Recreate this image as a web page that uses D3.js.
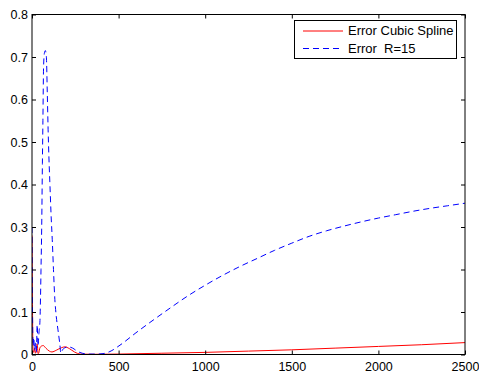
<!DOCTYPE html>
<html><head><meta charset="utf-8">
<script src="https://cdn.jsdelivr.net/npm/d3@7"></script>
<style>body{margin:0;background:#fff}svg{display:block}text{font-family:"Liberation Sans",Arial,sans-serif}</style>
</head><body>
<svg id="c" width="479" height="375"></svg>
<script>
const xTicks = [0,500,1000,1500,2000,2500];
const yTicks = [0,0.1,0.2,0.3,0.4,0.5,0.6,0.7,0.8];
const seriesNames = ["Error Cubic Spline","Error  R=15"];
const splineX = [0,3,6,10,15,20,25,30,35,40,45,55,65,80,100,115,140,170,190,215,245,280,350,500,750,1000,1250,1500,1750,2000,2250,2500];
const splineY = [0.28,0.1,0.01,0.005,0.015,0.003,0.01,0.025,0.002,0.005,0.015,0.02,0.021,0.015,0.008,0.006,0.01,0.016,0.018,0.014,0.006,0.001,0.0005,0.001,0.003,0.005,0.008,0.011,0.015,0.019,0.023,0.028];
const rX = [0,3,6,10,15,20,25,30,35,40,46,52,56,60,63,67,72,77,83,88,93,98,104,110,117,124,131,140,150,160,167,175,190,210,235,260,290,330,370,410,450,508,600,700,800,900,1000,1100,1200,1300,1400,1500,1600,1700,1800,1900,2000,2100,2200,2300,2400,2500];
const rY = [0.3,0.1,0.02,0.04,0.01,0.03,0.005,0.07,0.02,0.05,0.08,0.2,0.3,0.45,0.55,0.68,0.71,0.715,0.70,0.62,0.53,0.46,0.395,0.33,0.27,0.2,0.136,0.09,0.058,0.027,0.003,0.01,0.016,0.018,0.015,0.008,0.003,0.001,0.001,0.002,0.007,0.022,0.051,0.081,0.11,0.138,0.163,0.186,0.207,0.226,0.245,0.262,0.278,0.291,0.302,0.312,0.321,0.329,0.337,0.344,0.35,0.356];

const svg = d3.select("#c");
const L=32,R=465,T=14.5,B=354.5;
const x = d3.scaleLinear().domain([0,2500]).range([L,R]);
const y = d3.scaleLinear().domain([0,0.8]).range([B,T]);

svg.append("clipPath").attr("id","clip").append("rect").attr("x",L).attr("y",T).attr("width",R-L).attr("height",B-T);

const line = d3.line().x(d=>x(d[0])).y(d=>y(d[1])).curve(d3.curveMonotoneX);
const g = svg.append("g").attr("clip-path","url(#clip)");
g.append("path").datum(splineX.map((v,i)=>[v,splineY[i]])).attr("d",line).attr("fill","none").attr("stroke","#ff0000").attr("stroke-width",1);
g.append("path").datum(rX.map((v,i)=>[v,rY[i]])).attr("d",line).attr("fill","none").attr("stroke","#0000ff").attr("stroke-width",1).attr("stroke-dasharray","6,4");

// axes
const tl = 4, fs = 12.5;
const xb = svg.append("g").attr("transform",`translate(0,${B})`).call(d3.axisBottom(x).tickValues(xTicks).tickSize(-tl).tickPadding(8).tickFormat(d3.format("d")));
const xt = svg.append("g").attr("transform",`translate(0,${T})`).call(d3.axisTop(x).tickValues(xTicks).tickSize(-tl).tickFormat(""));
const yl = svg.append("g").attr("transform",`translate(${L},0)`).call(d3.axisLeft(y).tickValues(yTicks).tickSize(-tl).tickPadding(4).tickFormat(d=>d===0?"0":d3.format(".1f")(d)));
const yr = svg.append("g").attr("transform",`translate(${R},0)`).call(d3.axisRight(y).tickValues(yTicks).tickSize(-tl).tickFormat(""));
[xb,xt,yl,yr].forEach(a=>{a.select(".domain").remove();a.selectAll("line").attr("stroke","#000");a.selectAll("text").attr("font-size",fs).attr("fill","#000").attr("font-family","Liberation Sans, Arial, sans-serif");});
svg.append("rect").attr("x",L).attr("y",T).attr("width",R-L).attr("height",B-T).attr("fill","none").attr("stroke","#000").attr("stroke-width",1);

// legend
const lg = svg.append("g");
lg.append("rect").attr("x",294.5).attr("y",20.5).attr("width",162).attr("height",38).attr("fill","#fff").attr("stroke","#000");
const cols=["#ff0000","#0000ff"], dashes=[null,"6,4"];
seriesNames.forEach((n,i)=>{
  const yy = 31 + i*17.5;
  lg.append("line").attr("x1",303).attr("x2",343).attr("y1",yy).attr("y2",yy).attr("stroke",cols[i]).attr("stroke-dasharray",dashes[i]);
  lg.append("text").attr("x",348).attr("y",yy+4.3).attr("font-size",13).attr("fill","#000").style("white-space","pre").text(n);
});
</script>
</body></html>
